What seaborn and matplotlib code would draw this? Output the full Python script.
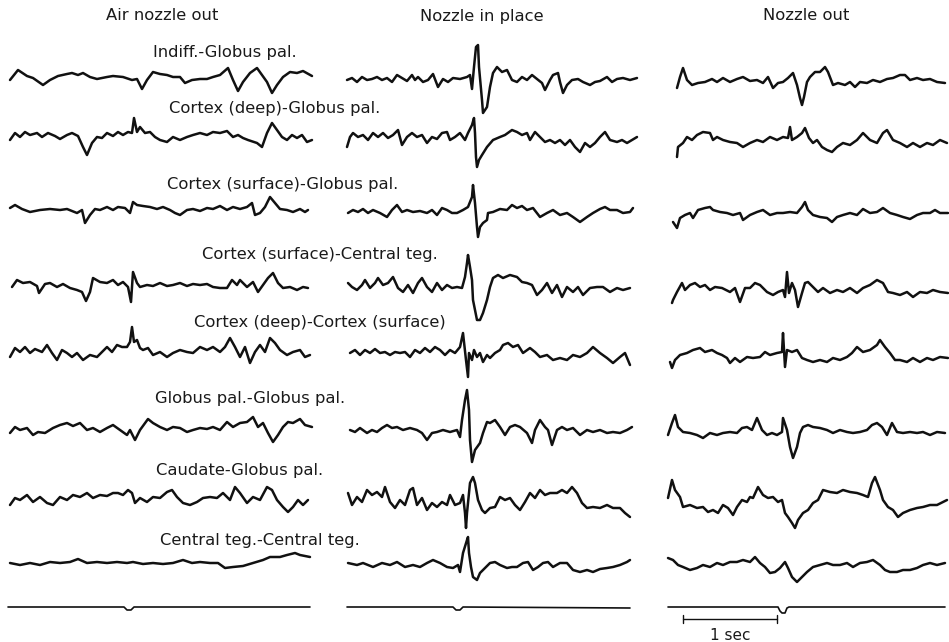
import matplotlib
matplotlib.use("Agg")
import matplotlib.pyplot as plt
import pandas as pd
import seaborn as sns

sns.set_style("white")
plt.rcParams["font.family"] = ["DejaVu Sans"]

# ---------------- data ----------------
conditions = ["Air nozzle out", "Nozzle in place", "Nozzle out"]
derivations = [
    "Indiff.-Globus pal.",
    "Cortex (deep)-Globus pal.",
    "Cortex (surface)-Globus pal.",
    "Cortex (surface)-Central teg.",
    "Cortex (deep)-Cortex (surface)",
    "Globus pal.-Globus pal.",
    "Caudate-Globus pal.",
    "Central teg.-Central teg.",
]
scale_label = "1 sec"
sec_units = 94  # time units per second

# (time, deflection) pairs; deflection positive = upward
air_1 = [(0,-1),(8,9),(17,3),(23,1),(33,-6),(40,-1),(48,3),(57,5),(62,6),(68,4),(73,6),(80,2),(87,0),(97,2),(103,3),(113,2),(122,-1),(127,0),(132,-10),(137,-1),(143,7),(150,5),(157,4),(163,2),(170,2),(175,-4),(182,-1),(190,0),(197,0),(203,2),(210,4),(218,11),(223,-1),(228,-12),(233,-3),(240,6),(247,11),(252,4),(257,-3),(262,-14),(267,-6),(273,2),(280,7),(287,6),(293,8),(302,3)]
air_2 = [(0,-2),(5,5),(10,1),(15,6),(20,3),(27,5),(32,1),(38,5),(45,2),(50,-1),(57,3),(62,5),(68,2),(73,-9),(77,-17),(82,-5),(87,1),(92,0),(97,5),(103,2),(108,6),(113,3),(118,6),(122,5),(124,20),(127,6),(130,11),(135,5),(140,6),(145,1),(150,-2),(157,-4),(163,1),(170,-2),(177,1),(183,3),(190,5),(197,3),(203,6),(210,5),(217,7),(223,1),(228,3),(233,0),(238,-2),(247,-5),(252,-9),(257,5),(262,15),(267,8),(272,1),(277,-2),(282,3),(287,0),(292,3),(297,-4),(302,-2)]
air_3 = [(0,3),(5,6),(12,2),(20,-1),(30,1),(40,2),(50,1),(57,2),(67,-2),(72,1),(75,-12),(80,-4),(85,2),(90,1),(97,4),(103,1),(108,4),(115,3),(120,-2),(123,9),(127,6),(133,5),(140,4),(147,2),(153,4),(160,1),(165,-2),(170,-4),(177,1),(183,2),(190,0),(197,3),(203,2),(210,5),(217,1),(223,4),(230,2),(237,4),(242,8),(245,-4),(250,-2),(255,4),(260,14),(265,8),(270,2),(277,1),(283,-1),(290,2),(295,-1),(298,1)]
air_4 = [(2,0),(7,7),(13,4),(20,5),(27,1),(29,-6),(35,3),(40,4),(47,0),(53,3),(60,-1),(67,-3),(72,-5),(76,-14),(80,-5),(83,9),(90,5),(97,4),(103,7),(108,2),(113,5),(118,0),(121,-15),(123,15),(127,4),(130,0),(137,2),(143,1),(150,4),(157,1),(163,2),(170,4),(177,1),(183,3),(190,2),(197,3),(203,0),(210,-1),(217,-1),(222,7),(227,2),(230,7),(237,0),(243,5),(248,-5),(253,2),(258,9),(263,14),(268,4),(273,-1),(280,0),(287,-3),(293,0),(298,-1)]
air_5 = [(0,-4),(5,5),(10,1),(15,6),(20,0),(25,4),(32,1),(37,8),(42,0),(47,-7),(52,3),(57,0),(62,-4),(67,0),(73,-7),(80,-2),(87,-4),(92,1),(97,6),(102,1),(107,8),(112,6),(117,6),(120,11),(122,26),(124,11),(127,13),(130,5),(133,3),(138,5),(143,-2),(150,1),(157,-4),(163,0),(170,3),(177,1),(183,0),(190,6),(197,3),(203,6),(210,1),(215,6),(220,15),(225,6),(230,-4),(235,6),(240,-10),(245,1),(250,8),(255,1),(260,15),(265,10),(270,3),(277,-2),(283,1),(290,3),(295,-4),(300,-2)]
air_6 = [(0,-3),(5,3),(10,0),(17,2),(23,-5),(28,-2),(35,-3),(43,2),(50,5),(57,7),(63,4),(70,7),(77,0),(83,2),(90,-2),(97,2),(103,5),(110,0),(117,-5),(120,0),(125,-10),(130,0),(138,11),(143,7),(150,3),(157,0),(163,3),(170,2),(177,-2),(183,0),(190,2),(197,1),(203,3),(210,0),(217,8),(223,3),(230,7),(237,8),(243,13),(248,3),(253,7),(258,-3),(263,-12),(268,-5),(273,3),(278,8),(283,7),(290,11),(295,5),(302,3)]
air_7 = [(0,-6),(5,1),(10,-1),(17,4),(23,-3),(30,2),(37,-4),(43,-6),(50,2),(57,-1),(63,4),(70,2),(77,6),(83,1),(90,4),(97,3),(103,6),(108,6),(113,4),(118,9),(122,6),(125,-4),(130,1),(137,-3),(143,2),(150,1),(157,7),(162,9),(167,2),(173,-4),(180,-6),(187,-3),(193,1),(200,2),(207,1),(213,6),(220,-1),(225,12),(230,6),(237,-4),(243,2),(250,-1),(257,12),(262,9),(267,-1),(273,-8),(278,-13),(283,-8),(288,-1),(293,-6),(298,-1)]
air_8 = [(0,0),(10,-2),(20,0),(30,-2),(40,1),(50,0),(60,1),(68,4),(77,0),(87,1),(97,0),(107,1),(117,0),(123,1),(133,-1),(143,0),(153,-1),(163,0),(173,3),(182,0),(190,1),(200,0),(208,0),(215,-5),(223,-4),(233,-3),(243,0),(253,3),(260,6),(270,6),(277,8),(285,10),(290,8),(300,6)]

inplace_1 = [(0,-1),(5,1),(10,-3),(15,2),(20,-1),(25,0),(30,2),(35,-1),(40,1),(45,-3),(50,4),(55,1),(60,-2),(65,4),(68,-1),(71,2),(76,-3),(81,-1),(86,5),(91,-8),(96,0),(101,-3),(106,1),(113,0),(120,2),(123,4),(125,-10),(127,12),(129,32),(131,34),(132,12),(135,-21),(136,-34),(140,-28),(143,-8),(146,6),(150,12),(155,7),(160,9),(165,-1),(170,-3),(175,2),(180,-1),(185,4),(190,0),(195,-4),(198,-11),(203,-1),(206,4),(211,6),(213,-3),(216,-14),(220,-6),(225,-1),(231,0),(236,-3),(243,-6),(248,-3),(253,-2),(260,2),(265,-3),(270,0),(276,1),(283,-1),(290,1)]
inplace_2 = [(0,-9),(3,1),(6,5),(11,1),(16,3),(21,-2),(26,5),(31,1),(36,5),(41,0),(46,3),(51,8),(55,-7),(60,1),(65,5),(70,1),(75,3),(80,-5),(85,1),(90,-1),(95,5),(100,6),(103,-2),(108,1),(113,5),(118,-2),(121,5),(125,13),(127,20),(128,5),(129,-19),(130,-29),(132,-22),(135,-17),(140,-9),(146,-2),(153,1),(158,3),(165,8),(170,6),(175,3),(180,5),(183,-2),(188,6),(193,1),(198,-4),(203,-2),(208,-5),(213,-2),(218,-7),(223,-2),(228,-9),(233,-14),(238,-5),(243,-9),(248,-5),(253,1),(258,6),(263,-2),(270,-4),(275,-2),(280,-5),(285,-2),(290,1)]
inplace_3 = [(1,-2),(6,1),(11,-1),(16,2),(21,-2),(26,1),(33,-2),(40,-6),(45,1),(50,6),(55,-1),(60,1),(66,-1),(73,0),(80,-2),(85,1),(90,-4),(95,3),(100,1),(105,-2),(110,-2),(116,1),(121,4),(125,14),(126,26),(128,8),(130,-16),(131,-26),(133,-16),(136,-12),(140,-9),(141,-2),(146,-1),(153,2),(160,1),(165,6),(170,3),(175,5),(180,1),(186,3),(193,-6),(200,-2),(206,1),(213,-4),(220,-2),(226,-6),(233,-11),(240,-6),(246,-2),(253,2),(258,4),(263,1),(270,1),(276,-2),(283,-1),(286,3)]
inplace_4 = [(1,4),(5,0),(10,-3),(15,2),(18,7),(23,-1),(28,4),(31,9),(36,2),(41,4),(46,10),(51,-1),(56,-5),(61,2),(66,-6),(71,4),(75,9),(80,0),(85,-5),(90,4),(95,-3),(100,2),(105,-1),(110,0),(115,-1),(118,10),(120,24),(121,32),(123,20),(125,7),(126,-13),(130,-33),(133,-33),(136,-26),(140,-13),(143,0),(146,9),(151,12),(156,9),(163,12),(170,10),(175,5),(180,4),(185,2),(190,-8),(195,-3),(200,4),(205,-6),(210,2),(215,-10),(220,0),(226,-5),(231,0),(236,-8),(243,-1),(250,0),(256,0),(263,-5),(270,-1),(276,-3),(283,-1)]
inplace_5 = [(3,0),(8,3),(13,-2),(18,3),(23,0),(28,4),(33,0),(38,1),(43,-2),(48,1),(53,0),(58,1),(63,-4),(68,3),(73,0),(78,5),(83,1),(88,6),(93,3),(98,-2),(103,3),(108,0),(113,6),(116,20),(119,-7),(121,-24),(122,0),(125,-7),(127,3),(130,-4),(133,0),(136,-9),(140,-2),(143,-5),(148,0),(153,3),(156,8),(161,10),(166,6),(171,8),(176,0),(183,5),(188,1),(193,-4),(200,-2),(206,-7),(213,-5),(220,-7),(226,-2),(233,-4),(240,0),(246,6),(253,0),(260,-5),(266,-10),(273,-4),(278,0),(283,-12)]
inplace_6 = [(3,0),(8,-2),(13,2),(20,-3),(25,0),(30,-2),(35,2),(40,5),(45,2),(50,3),(56,0),(63,2),(70,0),(75,-3),(80,-10),(85,-3),(90,-2),(96,0),(103,-2),(110,0),(113,-7),(115,10),(118,30),(120,40),(122,20),(123,-10),(125,-32),(128,-20),(133,-13),(136,-3),(140,8),(143,7),(148,10),(153,3),(158,-5),(163,3),(168,5),(173,3),(180,-3),(185,-13),(188,0),(193,10),(198,3),(201,0),(205,-15),(210,0),(215,3),(220,0),(226,2),(233,-5),(240,0),(246,-2),(253,0),(260,-3),(266,-2),(273,-3),(280,0),(285,3)]
inplace_7 = [(1,6),(5,-6),(10,2),(15,-3),(20,9),(25,4),(30,7),(35,2),(38,12),(43,-3),(48,-9),(53,-1),(58,-6),(63,9),(66,11),(70,-6),(75,1),(80,-11),(85,-4),(90,-8),(95,-3),(100,-6),(103,4),(108,-6),(113,-4),(116,4),(118,-14),(119,-29),(120,-14),(123,16),(126,22),(128,16),(131,-1),(135,-11),(138,-14),(143,-9),(148,-8),(153,2),(158,-1),(163,1),(168,-6),(173,-11),(178,-3),(183,6),(188,1),(193,9),(198,4),(203,6),(210,6),(215,9),(220,6),(225,12),(230,6),(235,-4),(240,-9),(246,-8),(253,-9),(260,-6),(266,-9),(273,-9),(278,-14),(283,-18)]
inplace_8 = [(1,0),(10,-2),(16,0),(26,-4),(35,0),(43,-2),(50,1),(58,-4),(66,-2),(73,-4),(80,0),(86,3),(93,0),(100,-4),(106,-5),(111,-2),(113,-9),(116,10),(120,23),(121,26),(122,10),(124,-4),(126,-14),(130,-17),(133,-10),(138,-5),(143,0),(148,1),(153,-2),(160,-5),(165,-4),(170,-4),(176,0),(181,1),(186,-7),(191,-4),(196,0),(201,1),(206,-4),(213,0),(220,0),(226,-7),(233,-9),(240,-7),(246,-9),(253,-6),(260,-5),(266,-4),(273,-2),(280,1),(283,3)]

out_1 = [(0,-9),(3,2),(6,11),(10,-1),(15,-6),(21,-4),(28,-3),(35,0),(40,-3),(46,1),(53,-3),(60,0),(66,2),(73,-2),(80,-1),(86,-4),(91,2),(96,-9),(101,-4),(106,-3),(111,1),(116,6),(120,-6),(123,-19),(125,-26),(127,-18),(130,-3),(133,2),(138,7),(143,7),(148,12),(151,7),(156,-6),(161,-4),(168,-6),(173,-3),(178,-8),(183,-3),(190,-4),(196,-1),(203,-3),(210,0),(216,1),(223,4),(228,4),(233,-1),(240,1),(246,-1),(253,0),(260,-3),(268,-4)]
out_2 = [(0,-19),(1,-9),(6,-5),(10,1),(15,-2),(20,3),(26,6),(33,5),(36,-2),(40,1),(46,-2),(53,-4),(60,-5),(66,-9),(73,-5),(80,-2),(86,-4),(93,1),(100,-2),(106,1),(111,0),(113,11),(115,-2),(120,1),(125,5),(128,10),(132,0),(136,-5),(140,-2),(145,-9),(150,-12),(155,-14),(160,-9),(166,-5),(173,-7),(180,-2),(186,5),(193,-2),(200,-5),(206,5),(210,8),(216,-2),(223,-5),(230,-9),(236,-5),(243,-9),(250,-5),(256,-7),(263,-2),(270,-5)]
out_3 = [(-4,-11),(0,-17),(3,-7),(8,-4),(13,-2),(16,-7),(21,1),(28,3),(33,4),(36,1),(43,-1),(50,-2),(56,-4),(63,-2),(66,-9),(73,-4),(80,-1),(86,1),(93,-4),(100,-2),(106,-2),(113,-1),(120,-2),(125,4),(128,9),(131,1),(136,-4),(143,-6),(150,-7),(155,-11),(160,-6),(166,-4),(173,-2),(180,-4),(186,2),(193,-2),(200,-1),(206,3),(213,-2),(220,-4),(226,-6),(233,-8),(240,-4),(246,-2),(253,-2),(258,1),(263,-2),(271,-2)]
out_4 = [(-5,-16),(-4,-13),(0,-5),(5,4),(8,-3),(13,2),(18,4),(23,0),(28,2),(33,-3),(38,0),(45,-1),(53,-5),(58,-1),(63,-15),(68,-1),(73,-1),(78,4),(83,2),(90,-5),(96,-8),(101,-5),(106,-3),(108,-10),(110,15),(112,-6),(115,4),(118,-3),(121,-20),(125,-6),(128,4),(131,5),(136,0),(141,-5),(146,-1),(153,-6),(160,-3),(166,-5),(173,-1),(180,-6),(186,-1),(193,2),(200,7),(206,4),(211,-5),(216,-6),(223,-8),(230,-5),(236,-10),(243,-5),(250,-6),(256,-3),(263,-5),(271,-6)]
out_5 = [(-7,-9),(-5,-15),(-2,-7),(3,-2),(10,0),(16,3),(23,5),(28,1),(35,3),(40,0),(45,-2),(50,-5),(53,-10),(58,-5),(63,-9),(70,-4),(76,-5),(83,-4),(88,1),(93,-2),(100,0),(105,1),(106,20),(108,-14),(110,3),(115,1),(120,3),(125,-5),(130,-7),(136,-9),(143,-7),(150,-9),(156,-5),(163,-7),(170,-4),(175,0),(180,6),(186,1),(193,3),(200,8),(203,13),(208,6),(213,0),(218,-7),(223,-7),(230,-9),(236,-5),(243,-9),(250,-5),(256,-7),(263,-4),(271,-5)]
out_6 = [(-9,-5),(-5,7),(-2,15),(1,3),(6,-2),(13,-3),(20,-5),(26,-8),(33,-3),(40,-5),(46,-3),(53,-2),(60,-3),(65,2),(70,3),(75,0),(80,12),(85,0),(90,-5),(95,-3),(100,-5),(105,-2),(106,12),(110,0),(113,-17),(116,-28),(120,-17),(123,-3),(126,3),(131,5),(136,3),(143,2),(150,0),(156,-3),(163,0),(170,-2),(176,-3),(183,-2),(190,0),(195,5),(200,7),(205,3),(210,-5),(215,7),(220,-2),(226,-3),(233,-2),(240,-3),(246,-2),(253,-5),(260,-2),(268,-3)]
out_7 = [(-9,1),(-5,19),(-2,9),(3,2),(6,-8),(13,-6),(20,-9),(26,-8),(31,-13),(36,-11),(41,-14),(46,-6),(51,-9),(56,-16),(60,-8),(65,-1),(70,-3),(73,2),(76,1),(81,12),(86,4),(91,1),(96,2),(101,-3),(105,-1),(108,-14),(111,-18),(115,-24),(118,-29),(121,-21),(126,-14),(131,-11),(136,-4),(141,-1),(146,9),(153,7),(160,6),(166,9),(173,7),(180,6),(186,4),(191,2),(195,16),(198,22),(203,9),(206,-1),(211,-8),(216,-11),(221,-18),(226,-14),(233,-11),(240,-9),(246,-8),(253,-6),(260,-6),(266,-3),(270,-1)]
out_8 = [(-9,5),(-4,3),(1,-2),(6,-4),(13,-7),(20,-5),(26,-2),(33,-4),(40,0),(46,-2),(53,1),(60,1),(66,3),(73,1),(78,6),(83,0),(88,-4),(93,-10),(98,-9),(103,-5),(108,1),(111,-5),(115,-14),(120,-19),(125,-14),(130,-9),(136,-4),(143,-2),(150,0),(156,-2),(163,-2),(170,0),(176,-4),(183,0),(190,1),(196,3),(203,-2),(208,-7),(213,-9),(220,-9),(226,-7),(233,-7),(240,-5),(246,-2),(253,0),(260,-2),(268,0)]

# stimulus marker channel
marker_air = [(-2,0),(114,0),(117,-3),(121,-3),(124,0),(300,0)]
marker_inplace = [(0,0),(106,0),(109,-3),(113,-3),(116,0),(283,-1)]
marker_out = [(-9,0),(101,0),(103,-4),(105,-6),(108,-6),(110,-1),(112,0),(268,0)]

traces = [
    [air_1, air_2, air_3, air_4, air_5, air_6, air_7, air_8],
    [inplace_1, inplace_2, inplace_3, inplace_4, inplace_5, inplace_6, inplace_7, inplace_8],
    [out_1, out_2, out_3, out_4, out_5, out_6, out_7, out_8],
]
markers = [marker_air, marker_inplace, marker_out]

# ---------------- layout ----------------
W, H = 949, 642
col_x0 = [10, 347, 677]
row_y = [79, 138, 211, 287, 353, 430, 499, 563]
marker_y = 607
title_x = [162, 482, 806]
title_y = 16
label_pos = [(225, 52), (275, 109), (283, 185), (320, 255), (320, 322),
             (250, 399), (240, 470), (260, 540)]

fig = plt.figure(figsize=(W / 100, H / 100), dpi=100)
ax = fig.add_axes([0, 0, 1, 1])
ax.set_xlim(0, W)
ax.set_ylim(H, 0)
ax.set_axis_off()

def draw(pairs, x0, y0, lw):
    df = pd.DataFrame(pairs, columns=["t", "v"])
    df["x"] = x0 + df["t"]
    df["y"] = y0 - df["v"]
    sns.lineplot(data=df, x="x", y="y", sort=False, estimator=None,
                 color="#111111", linewidth=lw, ax=ax, legend=False)

for c in range(3):
    for r in range(8):
        draw(traces[c][r], col_x0[c], row_y[r], 1.8)
    draw(markers[c], col_x0[c], marker_y, 1.2)

fs = 11.8
for c, name in enumerate(conditions):
    ax.text(title_x[c], title_y, name, ha="center", va="center", fontsize=fs, color="#1a1a1a")
for name, (x, y) in zip(derivations, label_pos):
    ax.text(x, y, name, ha="center", va="center", fontsize=fs, color="#1a1a1a")

# scale bar: 1 sec
sb_x0, sb_y = 683, 619
sb = pd.DataFrame({"x": [sb_x0, sb_x0 + sec_units], "y": [sb_y, sb_y]})
sns.lineplot(data=sb, x="x", y="y", color="#111111", linewidth=1.0, ax=ax, legend=False)
for xe in (sb_x0, sb_x0 + sec_units):
    ax.plot([xe, xe], [sb_y - 4, sb_y + 4], color="#111111", linewidth=1.0)
ax.text(sb_x0 + sec_units / 2, 635, scale_label, ha="center", va="center", fontsize=fs - 0.8,
        color="#1a1a1a")

ax.set_xlabel("")
ax.set_ylabel("")
fig.savefig("out.png", dpi=100, facecolor="white")
